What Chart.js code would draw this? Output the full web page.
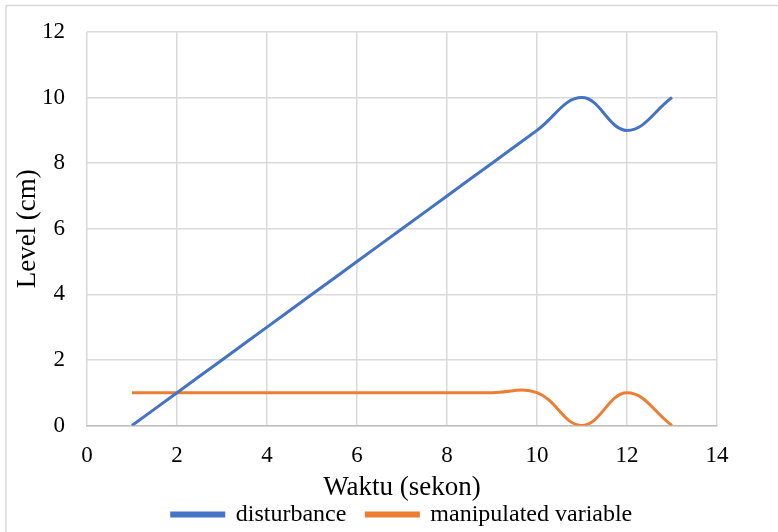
<!DOCTYPE html>
<html>
<head>
<meta charset="utf-8">
<script src="https://cdn.jsdelivr.net/npm/chart.js@4/dist/chart.umd.min.js"></script>
<style>
  html, body { margin: 0; padding: 0; background: #ffffff; }
  #wrap { position: relative; width: 778px; height: 532px; }
</style>
</head>
<body>
<div id="wrap"><canvas id="c" width="778" height="532"></canvas></div>
<script>
// Time in seconds
const waktu = [1, 2, 3, 4, 5, 6, 7, 8, 9, 10, 11, 12, 13];
// Level readings (cm)
const disturbance = [0, 1, 2, 3, 4, 5, 6, 7, 8, 9, 10, 9, 10];
const manipulatedVariable = [1, 1, 1, 1, 1, 1, 1, 1, 1, 1, 0, 1, 0];

const seriesNames = ['disturbance', 'manipulated variable'];
const xTitle = 'Waktu (sekon)';
const yTitle = 'Level (cm)';

const toPoints = (ys) => waktu.map((x, i) => ({ x: x, y: ys[i] }));

const SERIF = "'Liberation Serif', 'Times New Roman', serif";
const LEGEND_HEIGHT = 49.5;

// Light frame around the whole figure (left and top edges visible)
const framePlugin = {
  id: 'frame',
  afterInit(chart) {
    // keep the legend band at a fixed height
    const lg = chart.legend;
    if (lg) {
      const origFit = lg.fit.bind(lg);
      lg.fit = function () { origFit(); this.height = LEGEND_HEIGHT; };
    }
  },
  beforeDraw(chart) {
    const ctx = chart.ctx;
    ctx.save();
    ctx.fillStyle = '#ffffff';
    ctx.fillRect(0, 0, chart.width, chart.height);
    ctx.strokeStyle = '#d9d9d9';
    ctx.lineWidth = 1.5;
    ctx.strokeRect(6, 5.5, chart.width + 20, chart.height + 20);
    ctx.restore();
  }
};

new Chart(document.getElementById('c'), {
  type: 'scatter',
  data: {
    datasets: [
      {
        label: seriesNames[0],
        data: toPoints(disturbance),
        showLine: true,
        borderColor: '#4472C4',
        backgroundColor: '#4472C4',
        borderWidth: 3,
        pointRadius: 0,
        tension: 0.4
      },
      {
        label: seriesNames[1],
        data: toPoints(manipulatedVariable),
        showLine: true,
        borderColor: '#ED7D31',
        backgroundColor: '#ED7D31',
        borderWidth: 3,
        pointRadius: 0,
        tension: 0.4
      }
    ]
  },
  options: {
    responsive: false,
    animation: false,
    layout: { padding: { left: 14.5, top: 32, right: 61, bottom: 0 } },
    plugins: {
      legend: {
        position: 'bottom',
        fullSize: false,
        labels: {
          boxWidth: 52,
          boxHeight: 3,
          padding: 20,
          color: '#000000',
          font: { family: SERIF, size: 24 }
        }
      },
      tooltip: { enabled: false }
    },
    scales: {
      x: {
        type: 'linear',
        min: 0,
        max: 14,
        ticks: { stepSize: 2, padding: 17, color: '#000000', font: { family: SERIF, size: 23 } },
        grid: { color: '#d9d9d9', lineWidth: 1.5, drawTicks: false },
        border: { color: '#bfbfbf', width: 1.5 },
        title: {
          display: true,
          text: xTitle,
          color: '#000000',
          font: { family: SERIF, size: 27, lineHeight: 1 },
          padding: { top: 0, bottom: -19 }
        },
        afterFit(scale) { scale.height = 57; }
      },
      y: {
        min: 0,
        max: 12,
        ticks: { stepSize: 2, padding: 22, color: '#000000', font: { family: SERIF, size: 23, lineHeight: 0.85 } },
        grid: { color: '#d9d9d9', lineWidth: 1.5, drawTicks: false },
        border: { display: false },
        title: {
          display: true,
          text: yTitle,
          color: '#000000',
          font: { family: SERIF, size: 27, lineHeight: 1 },
          padding: { top: 0, bottom: 0 }
        },
        afterFit(scale) { scale.width = 72.5; }
      }
    }
  },
  plugins: [framePlugin]
});
</script>
</body>
</html>
